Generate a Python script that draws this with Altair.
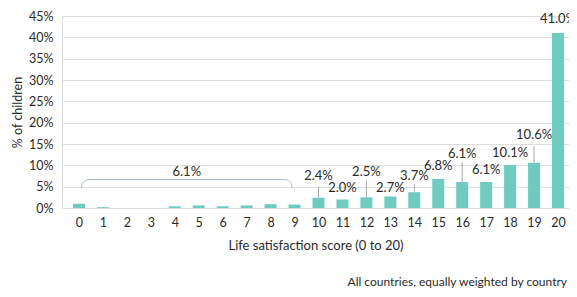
import altair as alt
import pandas as pd

scores = list(range(21))
values = [1.0, 0.2, 0.0, 0.0, 0.4, 0.6, 0.4, 0.6, 0.9, 0.8,
          2.4, 2.0, 2.5, 2.7, 3.7, 6.8, 6.1, 6.1, 10.1, 10.6, 41.0]

label_scores = [10, 11, 12, 13, 14, 15, 16, 17, 18, 19, 20]
label_texts = ["2.4%", "2.0%", "2.5%", "2.7%", "3.7%", "6.8%", "6.1%", "6.1%", "10.1%", "10.6%", "41.0%"]
label_y = [7.4, 4.8, 8.5, 4.8, 7.6, 9.9, 12.7, 9.0, 12.9, 17.1, 44.3]

leader_scores = [10, 12, 14, 16, 19]
leader_from = [2.4, 2.5, 3.7, 6.1, 10.6]
leader_to = [5.1, 6.5, 5.5, 10.8, 14.5]

bracket_x = [0.1, 0.13, 0.2, 0.3, 0.45, 8.55, 8.7, 8.8, 8.87, 8.9]
bracket_y = [4.6, 5.6, 6.2, 6.55, 6.7, 6.7, 6.55, 6.2, 5.6, 4.6]
bracket_label = "6.1%"
bracket_label_x = [4.5]
bracket_label_y = [8.4]

y_ticks = [0, 5, 10, 15, 20, 25, 30, 35, 40, 45]
note = "All countries, equally weighted by country"

FONT = "Lato"
TXT = "#2a2a2a"

bars_df = pd.DataFrame({"score": scores, "value": values})
labels_df = pd.DataFrame({"score": label_scores, "text": label_texts, "y": label_y})
leaders_df = pd.DataFrame({"score": leader_scores, "y1": leader_from, "y2": leader_to})
bracket_df = pd.DataFrame({"x": bracket_x, "y": bracket_y, "order": list(range(len(bracket_x)))})
blabel_df = pd.DataFrame({"x": bracket_label_x, "y": bracket_label_y, "text": [bracket_label]})

xscale = alt.Scale(domain=[-0.5, 20.25], nice=False, zero=False)
yscale = alt.Scale(domain=[0, 45], nice=False)

xaxis = alt.Axis(title="Life satisfaction score (0 to 20)", values=scores, format="d",
                 grid=False, domain=False, ticks=False, labelPadding=8,
                 labelOverlap=False, labelFlush=False,
                 labelFontSize=12.5, titleFontSize=13, titlePadding=11,
                 labelColor=TXT, titleColor=TXT, labelFont=FONT, titleFont=FONT,
                 titleFontWeight="normal")
yaxis = alt.Axis(title="% of children", values=y_ticks, labelOverlap=False,
                 labelFlush=False,
                 labelExpr="datum.value + '%'", grid=True, gridColor="#dedede",
                 domain=False, ticks=False, labelPadding=9, labelFontSize=12.5,
                 titleFontSize=12.5, titlePadding=4, labelColor=TXT, titleColor=TXT,
                 labelFont=FONT, titleFont=FONT, titleFontWeight="normal")


def X(field):
    return alt.X(field, scale=xscale, axis=xaxis)


def Y(field):
    return alt.Y(field, scale=yscale, axis=yaxis)


bars = alt.Chart(bars_df).mark_bar(color="#6fcbbf", size=12).encode(
    x=X("score:Q"), y=Y("value:Q"))

leaders = alt.Chart(leaders_df).mark_rule(color="#a8a8a8", strokeWidth=1).encode(
    x=X("score:Q"), y=Y("y1:Q"), y2="y2:Q")

labels = alt.Chart(labels_df).mark_text(font=FONT, fontSize=13, color=TXT).encode(
    x=X("score:Q"), y=Y("y:Q"), text="text:N")

bracket = alt.Chart(bracket_df).mark_line(color="#a9b8c4", strokeWidth=1, interpolate="monotone").encode(
    x=X("x:Q"), y=Y("y:Q"), order="order:Q")

blabel = alt.Chart(blabel_df).mark_text(font=FONT, fontSize=13, color=TXT).encode(
    x=X("x:Q"), y=Y("y:Q"), text="text:N")

note_df = pd.DataFrame({"text": [note]})
note_mark = alt.Chart(note_df).mark_text(font=FONT, fontSize=12, color=TXT, align="right",
                                          baseline="middle").encode(
    x=alt.value(505), y=alt.value(266), text="text:N")

chart = alt.layer(bars, leaders, labels, bracket, blabel, note_mark).properties(
    width=507, height=192,
    autosize=alt.AutoSizeParams(type="none"),
    padding={"left": 54, "top": 8, "right": 0, "bottom": 88},
).configure_view(stroke=None).configure(background="white")

chart.save("out.html", embed_options={"renderer": "svg", "actions": False})
